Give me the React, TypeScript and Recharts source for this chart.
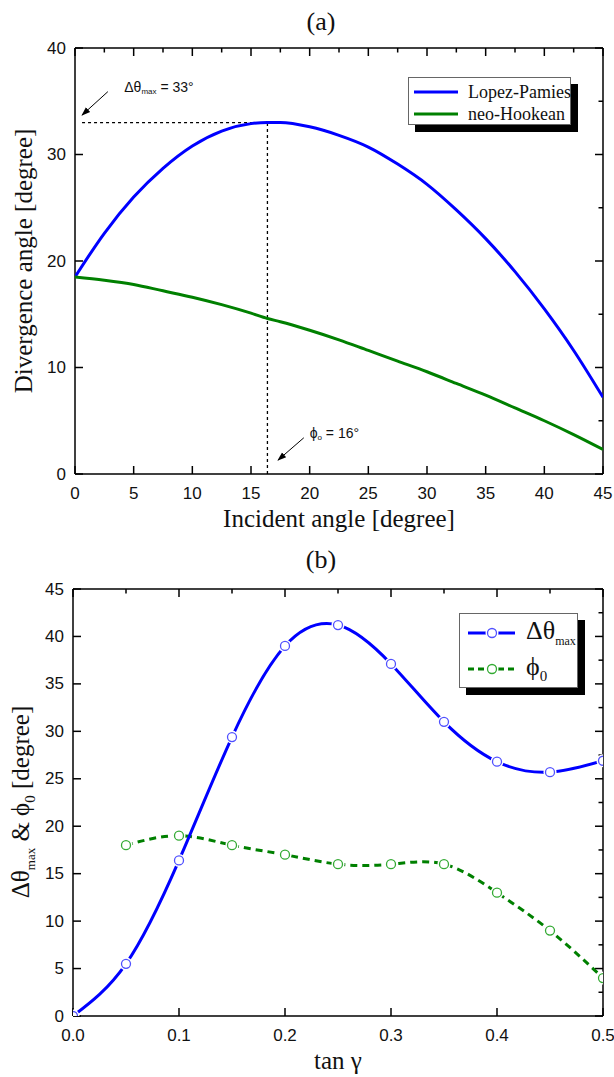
import React from 'react';
import { LineChart, Line, XAxis, YAxis, ReferenceLine, ReferenceDot, Legend } from 'recharts';

// (a) divergence angle vs incident angle
const incidentAngle = [0, 2.5, 5, 7.5, 10, 12.5, 15, 16.4, 17.5, 20, 22.5, 25, 27.5, 30, 32.5, 35, 37.5, 40, 42.5, 45];
const lopezPamies = [18.5, 22.6, 26.0, 28.7, 30.8, 32.2, 32.9, 33.0, 33.0, 32.6, 31.8, 30.7, 29.1, 27.2, 24.8, 22.1, 19.0, 15.5, 11.6, 7.2];
const neoHookean = [18.5, 18.2, 17.8, 17.2, 16.6, 15.9, 15.1, 14.6, 14.3, 13.5, 12.6, 11.6, 10.6, 9.6, 8.5, 7.4, 6.2, 5.0, 3.7, 2.3];
const angleTicks = [0, 5, 10, 15, 20, 25, 30, 35, 40, 45];
const angleMinorTicks = [2.5, 7.5, 12.5, 17.5, 22.5, 27.5, 32.5, 37.5, 42.5];
const divergenceTicks = [0, 10, 20, 30, 40];
const divergenceMinorTicks = [5, 15, 25, 35];

// (b) max divergence and its incident angle vs tan(gamma)
const tanGamma = [0, 0.05, 0.1, 0.15, 0.2, 0.25, 0.3, 0.35, 0.4, 0.45, 0.5];
const deltaThetaMax = [0, 5.5, 16.4, 29.4, 39.0, 41.2, 37.1, 31.0, 26.8, 25.7, 26.9];
const phi0 = [null, 18, 19, 18, 17, 16, 16, 16, 13, 9, 4];
const tanTicks = [0, 0.1, 0.2, 0.3, 0.4, 0.5];
const tanMinorTicks = [0.05, 0.15, 0.25, 0.35, 0.45];
const degreeTicks = [0, 5, 10, 15, 20, 25, 30, 35, 40, 45];
const degreeMinorTicks = [2.5, 7.5, 12.5, 17.5, 22.5, 27.5, 32.5, 37.5, 42.5];

const dataA = incidentAngle.map((x, i) => ({ x, lp: lopezPamies[i], nh: neoHookean[i] }));
const dataB = tanGamma.map((x, i) => ({ x, dt: deltaThetaMax[i], phi: phi0[i] }));

const SANS = '"Liberation Sans", Arial, sans-serif';
const SERIF = '"Liberation Serif", "Times New Roman", serif';

const W = 614;
const A_H = 540;
const A_M = { top: 48, right: 11, bottom: 64, left: 73 };
const B_TOP = 540;
const B_H = 537;
const B_M = { top: 49, right: 11, bottom: 59, left: 71 };

const TICK = { stroke: '#000', strokeWidth: 1.5 };
const MAJ = 8;
const MIN = 4.5;

const xLabel = (fmt: (v: number) => string) => (props: any) => (
  <text x={props.x} y={props.y + 27} textAnchor="middle" dominantBaseline="central" fontFamily={SANS} fontSize={17} fill="#111" stroke="none">
    {fmt(props.payload.value)}
  </text>
);

const yLabel = (props: any) => (
  <text x={props.x - 17} y={props.y} textAnchor="end" dominantBaseline="central" fontFamily={SANS} fontSize={17} fill="#111" stroke="none">
    {props.payload.value}
  </text>
);

// bottom/left axes with major+minor inward ticks; frame and mirrored ticks on top/right
const axes = (
  m: { top: number; right: number; bottom: number; left: number },
  h: number,
  xDomain: number[],
  yDomain: number[],
  xMaj: number[],
  xMin: number[],
  yMaj: number[],
  yMin: number[],
  fmt: (v: number) => string,
) => {
  const plotW = W - m.left - 2 - m.right;
  const plotH = h - m.top - m.bottom - 2;
  const xu = (xDomain[1] - xDomain[0]) / plotW; // data units per px
  const yu = (yDomain[1] - yDomain[0]) / plotH;
  const [x0, x1] = xDomain;
  const [y0, y1] = yDomain;
  const ref = { xAxisId: 'x', yAxisId: 'y', stroke: '#000', strokeWidth: 1.5 };
  return [
    <XAxis key="x" xAxisId="x" dataKey="x" type="number" domain={xDomain} ticks={xMaj} interval={0} allowDataOverflow height={1} axisLine={false} tickLine={TICK} tickSize={-MAJ} tickMargin={0} tick={xLabel(fmt)} />,
    <XAxis key="xm" xAxisId="xm" type="number" domain={xDomain} ticks={xMin} interval={0} allowDataOverflow height={1} axisLine={false} tickLine={TICK} tickSize={-MIN} tick={false} />,
    <YAxis key="y" yAxisId="y" type="number" domain={yDomain} ticks={yMaj} interval={0} allowDataOverflow width={1} axisLine={false} tickLine={TICK} tickSize={-MAJ} tickMargin={0} tick={yLabel} />,
    <YAxis key="ym" yAxisId="ym" type="number" domain={yDomain} ticks={yMin} interval={0} allowDataOverflow width={1} axisLine={false} tickLine={TICK} tickSize={-MIN} tick={false} />,
    <ReferenceLine key="fb" {...ref} y={y0} />,
    <ReferenceLine key="ft" {...ref} y={y1} />,
    <ReferenceLine key="fl" {...ref} x={x0} />,
    <ReferenceLine key="fr" {...ref} x={x1} />,
    ...xMaj.map((v) => <ReferenceLine key={`tt${v}`} {...ref} segment={[{ x: v, y: y1 }, { x: v, y: y1 - MAJ * yu }]} />),
    ...xMin.map((v) => <ReferenceLine key={`ttm${v}`} {...ref} segment={[{ x: v, y: y1 }, { x: v, y: y1 - MIN * yu }]} />),
    ...yMaj.map((v) => <ReferenceLine key={`rt${v}`} {...ref} segment={[{ x: x1, y: v }, { x: x1 - MAJ * xu, y: v }]} />),
    ...yMin.map((v) => <ReferenceLine key={`rtm${v}`} {...ref} segment={[{ x: x1, y: v }, { x: x1 - MIN * xu, y: v }]} />),
  ];
};

const hollowDot = (color: string) => (props: any) => {
  const { cx, cy, index } = props;
  if (cx == null || cy == null || props.value == null) return <g key={index} />;
  return (
    <g key={index}>
      <circle cx={cx} cy={cy} r={6.5} fill="#fff" />
      <circle cx={cx} cy={cy} r={4.5} fill="#fff" stroke={color} strokeWidth={1.3} />
    </g>
  );
};

const annoText = (main: string, sub: string, rest: string) => (p: any) => (
  <text x={p.cx} y={p.cy} fontFamily={SANS} fontSize={14} fill="#111" dominantBaseline="central">
    <tspan>{main}</tspan>
    <tspan fontSize={8} dy={4}>{sub}</tspan>
    <tspan dy={-4}>{rest}</tspan>
  </text>
);

const TopLegend = () => (
  <div style={{ width: 161, height: 46, border: '1px solid #666', background: '#fff', boxShadow: '7px 7px 0 #000', fontFamily: SERIF, fontSize: 18, color: '#111', position: 'relative' }}>
    {[
      { name: 'Lopez-Pamies', color: '#0000ff', top: 14 },
      { name: 'neo-Hookean', color: '#008000', top: 36 },
    ].map((it) => (
      <div key={it.name} style={{ position: 'absolute', left: 5, top: it.top - 11, height: 22, display: 'flex', alignItems: 'center', whiteSpace: 'nowrap' }}>
        <svg width={46} height={6} style={{ marginRight: 8 }}>
          <line x1={0} y1={3} x2={44} y2={3} stroke={it.color} strokeWidth={3} />
        </svg>
        <span>{it.name}</span>
      </div>
    ))}
  </div>
);

const BottomLegend = () => (
  <div style={{ width: 117, height: 73, border: '1px solid #666', background: '#fff', boxShadow: '7px 7px 0 #000', fontFamily: SERIF, fontSize: 26, color: '#111', position: 'relative' }}>
    {[
      { key: 'dt', color: '#0000ff', dot: '#5050ff', dash: undefined, top: 19, label: <span>Δθ<sub style={{ fontSize: 12 }}>max</sub></span> },
      { key: 'phi', color: '#008000', dot: '#33aa33', dash: '6 4', top: 55, label: <span>ϕ<sub style={{ fontSize: 15 }}>0</sub></span> },
    ].map((it) => (
      <div key={it.key} style={{ position: 'absolute', left: 8, top: it.top - 16, height: 32, display: 'flex', alignItems: 'center', whiteSpace: 'nowrap' }}>
        <svg width={50} height={14} style={{ marginRight: 8 }}>
          <line x1={0} y1={7} x2={47} y2={7} stroke={it.color} strokeWidth={3} strokeDasharray={it.dash} />
          <circle cx={24} cy={7} r={6.5} fill="#fff" />
          <circle cx={24} cy={7} r={4.5} fill="#fff" stroke={it.dot} strokeWidth={1.3} />
        </svg>
        {it.label}
      </div>
    ))}
  </div>
);

const title = (text: React.ReactNode, x: number, y: number, size: number, rotate = false): React.ReactNode => (
  <div
    style={{
      position: 'absolute',
      left: x,
      top: y,
      transform: `translate(-50%, -50%)${rotate ? ' rotate(-90deg)' : ''}`,
      fontFamily: SERIF,
      fontSize: size,
      lineHeight: 1,
      whiteSpace: 'nowrap',
      color: '#111',
    }}
  >
    {text}
  </div>
);

export default function App() {
  return (
    <div style={{ position: 'absolute', left: 0, top: 0, width: W, height: 1077, background: '#fff' }}>
      <svg width={0} height={0} style={{ position: 'absolute' }}>
        <defs>
          <marker id="arrowhead" viewBox="0 0 10 10" refX={9} refY={5} markerWidth={9} markerHeight={9} orient="auto">
            <path d="M0,1.5 L10,5 L0,8.5 z" fill="#000" />
          </marker>
        </defs>
      </svg>

      <div style={{ position: 'absolute', left: 0, top: 0 }}>
        <LineChart width={W} height={A_H} data={dataA} margin={A_M}>
          {axes(A_M, A_H, [0, 45], [0, 40], angleTicks, angleMinorTicks, divergenceTicks, divergenceMinorTicks, (v) => String(v))}
          <ReferenceLine xAxisId="x" yAxisId="y" segment={[{ x: 0.6, y: 33 }, { x: 16.4, y: 33 }]} stroke="#000" strokeWidth={1.3} strokeDasharray="3 3" />
          <ReferenceLine xAxisId="x" yAxisId="y" segment={[{ x: 16.4, y: 0 }, { x: 16.4, y: 33 }]} stroke="#000" strokeWidth={1.3} strokeDasharray="3 3" />
          <ReferenceLine xAxisId="x" yAxisId="y" segment={[{ x: 2.8, y: 35.9 }, { x: 0.6, y: 33.7 }]} stroke="#000" strokeWidth={1} markerEnd="url(#arrowhead)" ifOverflow="visible" />
          <ReferenceLine xAxisId="x" yAxisId="y" segment={[{ x: 19.5, y: 3.4 }, { x: 17.3, y: 1.3 }]} stroke="#000" strokeWidth={1} markerEnd="url(#arrowhead)" ifOverflow="visible" />
          <ReferenceDot xAxisId="x" yAxisId="y" x={4.2} y={36.3} r={0} shape={annoText('Δθ', 'max', ' = 33°')} />
          <ReferenceDot xAxisId="x" yAxisId="y" x={20.0} y={3.85} r={0} shape={annoText('ϕ', 'o', ' = 16°')} />
          <Line xAxisId="x" yAxisId="y" type="monotone" dataKey="lp" name="Lopez-Pamies" stroke="#0000ff" strokeWidth={3} dot={false} isAnimationActive={false} />
          <Line xAxisId="x" yAxisId="y" type="monotone" dataKey="nh" name="neo-Hookean" stroke="#008000" strokeWidth={3} dot={false} isAnimationActive={false} />
          <Legend layout="vertical" align="center" verticalAlign="middle" content={<TopLegend />} wrapperStyle={{ left: 408, top: 77, width: 163, height: 48 }} />
        </LineChart>
      </div>

      <div style={{ position: 'absolute', left: 0, top: B_TOP }}>
        <LineChart width={W} height={B_H} data={dataB} margin={B_M}>
          {axes(B_M, B_H, [0, 0.5], [0, 45], tanTicks, tanMinorTicks, degreeTicks, degreeMinorTicks, (v) => v.toFixed(1))}
          <Line xAxisId="x" yAxisId="y" type="natural" dataKey="phi" name="phi0" stroke="#008000" strokeWidth={3} strokeDasharray="7 5" dot={hollowDot('#33aa33')} isAnimationActive={false} />
          <Line xAxisId="x" yAxisId="y" type="natural" dataKey="dt" name="dtmax" stroke="#0000ff" strokeWidth={3} dot={hollowDot('#5050ff')} isAnimationActive={false} />
          <Legend layout="vertical" align="center" verticalAlign="middle" content={<BottomLegend />} wrapperStyle={{ left: 459, top: 73, width: 119, height: 75 }} />
        </LineChart>
      </div>

      {title('(a)', 321, 22, 26)}
      {title('Incident angle [degree]', 339, 518, 25)}
      {title('Divergence angle [degree]', 23, 261, 25, true)}
      {title('(b)', 321, 560, 26)}
      {title(<span>tan γ</span>, 338, 1060, 25)}
      {title(
        <span>
          Δθ<sub style={{ fontSize: 13 }}>max</sub> &amp; ϕ<sub style={{ fontSize: 15 }}>0</sub> [degree]
        </span>,
        23,
        802,
        25,
        true,
      )}
    </div>
  );
}
